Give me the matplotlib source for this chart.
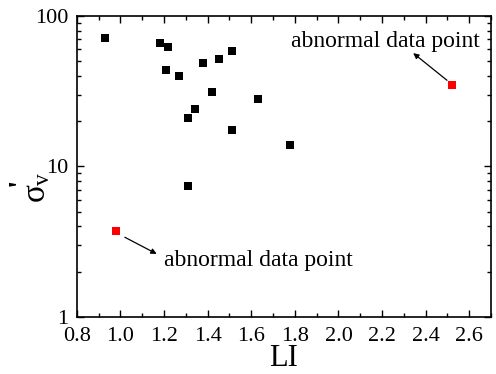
import matplotlib
matplotlib.use("Agg")
import matplotlib.pyplot as plt
from matplotlib.ticker import MultipleLocator, LogLocator, NullFormatter, FixedLocator, FixedFormatter

plt.rcParams['font.family'] = ['Liberation Serif', 'DejaVu Serif']
plt.rcParams['mathtext.fontset'] = 'custom'
plt.rcParams['mathtext.rm'] = 'Liberation Serif'
plt.rcParams['mathtext.it'] = 'Liberation Serif'

li = [0.93, 1.18, 1.22, 1.21, 1.27, 1.38, 1.45, 1.51, 1.42, 1.34, 1.31, 1.51, 1.31, 1.63, 1.78]
sigma = [71, 66, 62, 44, 40, 49, 52, 58.5, 31.5, 24, 21, 17.5, 7.4, 28, 13.8]
abn_li = [2.52, 0.98]
abn_sigma = [35, 3.7]
annot_text = "abnormal data point"
xticks = [0.8, 1.0, 1.2, 1.4, 1.6, 1.8, 2.0, 2.2, 2.4, 2.6]
xticklabels = ["0.8", "1.0", "1.2", "1.4", "1.6", "1.8", "2.0", "2.2", "2.4", "2.6"]
yticks = [1, 10, 100]
yticklabels = ["1", "10", "100"]

fig = plt.figure(figsize=(4.96, 3.74), dpi=100)
ax = fig.add_axes([0.155, 0.153, 0.835, 0.804])

ax.scatter(li, sigma, marker='s', s=38, color='black', linewidths=0, zorder=3)
ax.scatter(abn_li, abn_sigma, marker='s', s=38, color='#ff0000', linewidths=0, zorder=3)

ax.set_yscale('log')
ax.set_xlim(0.8, 2.7)
ax.set_ylim(1, 100)

ax.xaxis.set_major_locator(FixedLocator(xticks))
ax.xaxis.set_major_formatter(FixedFormatter(xticklabels))
ax.xaxis.set_minor_locator(MultipleLocator(0.1))
ax.yaxis.set_major_locator(FixedLocator(yticks))
ax.yaxis.set_major_formatter(FixedFormatter(yticklabels))
ax.yaxis.set_minor_locator(LogLocator(base=10, subs=range(2, 10)))
ax.yaxis.set_minor_formatter(NullFormatter())

ax.tick_params(which='both', direction='in', top=True, right=True, labelsize=16, width=1.0)
ax.tick_params(which='major', length=5)
ax.tick_params(axis='x', which='major', pad=7)
ax.tick_params(axis='y', which='major', pad=6)
ax.tick_params(which='minor', length=3)
for s in ax.spines.values():
    s.set_linewidth(1.2)

ax.set_xlabel("LI", fontsize=22, labelpad=-1)
ax.set_ylabel(r"$\sigma_{v}$", fontsize=24)
ax.yaxis.set_label_coords(-0.06, 0.43)
ax.text(-0.135, 0.448, "'", transform=ax.transAxes, rotation=90, fontsize=22,
        ha='center', va='center', fontweight='bold')

ax.text(2.65, 62.4, annot_text, fontsize=17, ha='right', va='baseline')
ax.annotate("", xy=(2.343, 56.7), xytext=(2.498, 37.4),
            arrowprops=dict(arrowstyle='-|>', color='black', lw=0.9, mutation_scale=8,
                            shrinkA=0, shrinkB=0))
ax.text(1.201, 2.19, annot_text, fontsize=17, ha='left', va='baseline')
ax.annotate("", xy=(1.166, 2.62), xytext=(1.020, 3.38),
            arrowprops=dict(arrowstyle='-|>', color='black', lw=0.9, mutation_scale=8,
                            shrinkA=0, shrinkB=0))

fig.savefig("out.png", dpi=100)
